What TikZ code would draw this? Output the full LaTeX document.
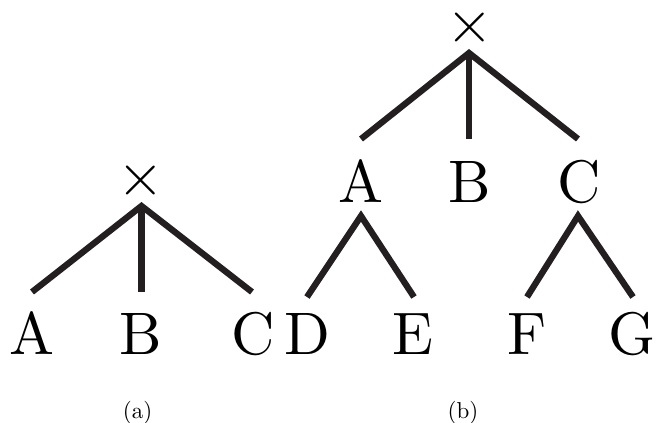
\documentclass[tikz,border=0pt]{standalone}
\usepackage{fontspec}
\setmainfont{lmroman10-regular.otf}
\definecolor{ink}{HTML}{231F20}
\begin{document}
\begin{tikzpicture}[x=1pt,y=-1pt,
  big/.style={anchor=base,inner sep=0pt,font=\fontsize{60}{60}\selectfont},
  lbl/.style={anchor=base,inner sep=0pt,font=\fontsize{23}{23}\selectfont},
  edge/.style={draw=ink,line width=6.3pt,line cap=butt,line join=miter}]
\useasboundingbox (0,0) rectangle (659,423);
% tree (a)
\node[big] (ta) at (141,195) {×};
\coordinate (pa) at (141.5,206);
\coordinate (a1) at (32,292);
\coordinate (a2) at (141.5,292);
\coordinate (a3) at (252,292);
\node[big] (A1) at (32,354) {A};
\node[big] (B1) at (141,354) {B};
\node[big] (C1) at (253,354) {C};
\draw[edge] (a1) -- (pa) -- (a3);
\draw[edge] (pa) -- (a2);
% tree (b)
\node[big] (tb) at (469.5,42) {×};
\coordinate (pb) at (469,53);
\coordinate (b1) at (361,139);
\coordinate (b2) at (469,139);
\coordinate (b3) at (578,139);
\draw[edge] (b1) -- (pb) -- (b3);
\draw[edge] (pb) -- (b2);
\node[big] (A2) at (361,202) {A};
\node[big] (B2) at (470,202) {B};
\node[big] (C2) at (579,202) {C};
\coordinate (pA) at (361,216);
\coordinate (d1) at (307,297);
\coordinate (e1) at (414,297);
\draw[edge] (d1) -- (pA) -- (e1);
\coordinate (pC) at (578,216);
\coordinate (f1) at (527,297);
\coordinate (g1) at (633,297);
\draw[edge] (f1) -- (pC) -- (g1);
\node[big] (D) at (307,354) {D};
\node[big] (E) at (413,354) {E};
\node[big] (F) at (527,354) {F};
\node[big] (G) at (632,354) {G};
% labels
\node[lbl] (la) at (137.5,418) {(a)};
\node[lbl] (lb) at (463,418) {(b)};
\end{tikzpicture}
\end{document}
